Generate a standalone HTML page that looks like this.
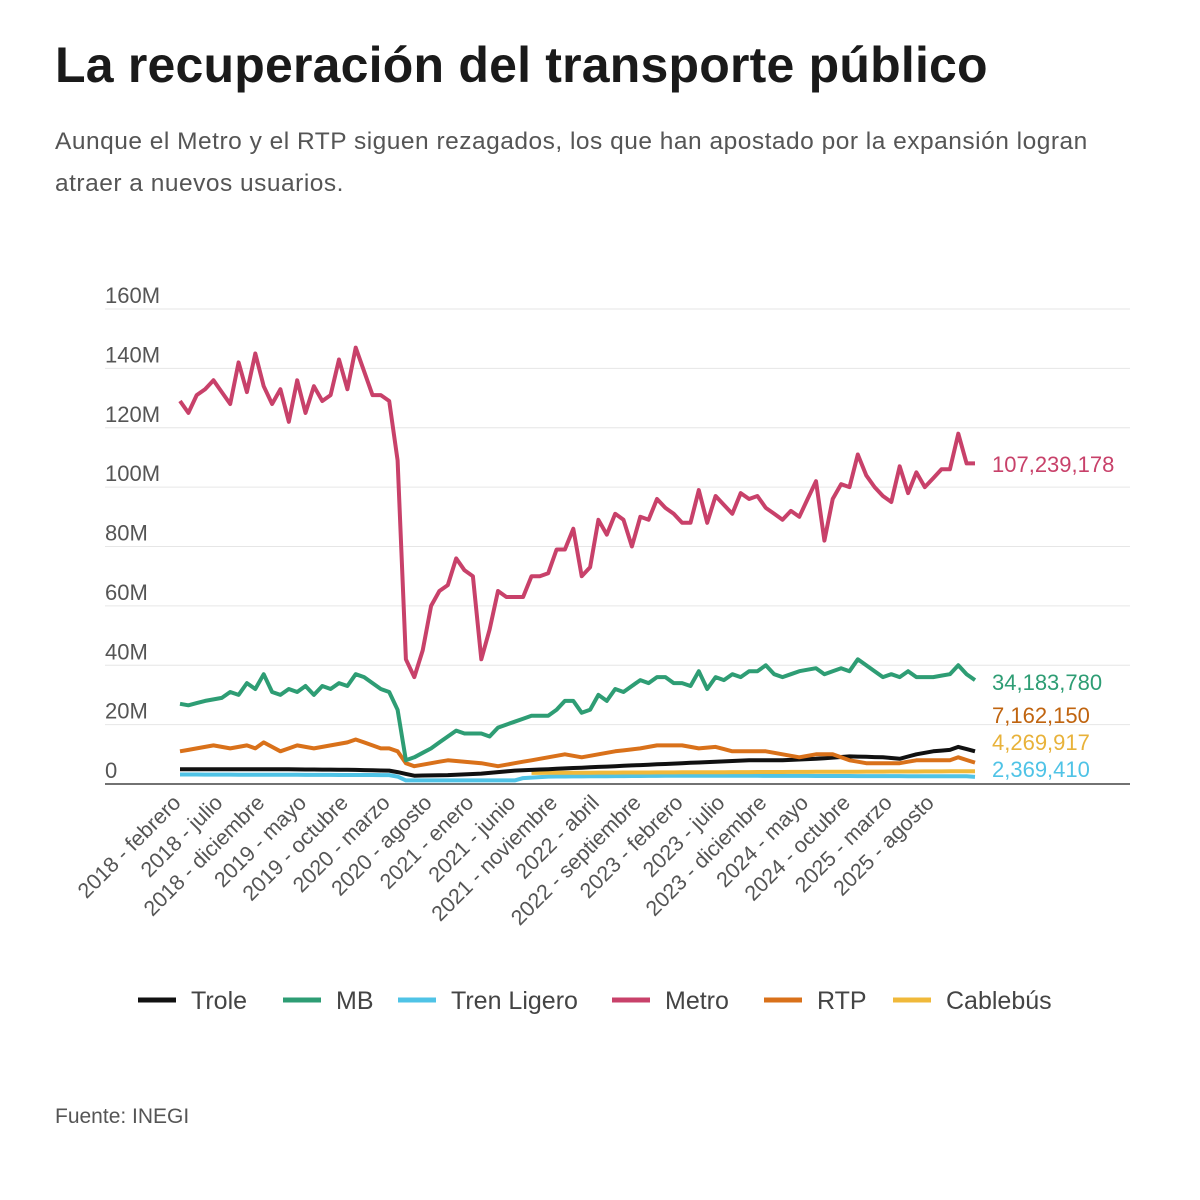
<!DOCTYPE html>
<html><head><meta charset="utf-8">
<style>
body{margin:0;background:#fff;width:1200px;height:1200px;overflow:hidden;font-family:"Liberation Sans",sans-serif;}
h1{position:absolute;left:55px;top:36px;margin:0;font-size:50px;font-weight:bold;color:#1a1a1a;letter-spacing:0.2px;}
.sub{position:absolute;left:55px;top:121px;width:1110px;font-size:24.5px;line-height:42px;color:#555;letter-spacing:0.5px;}
.src{position:absolute;left:55px;top:1105px;font-size:21px;color:#555;}
svg{position:absolute;left:0;top:0;}
</style></head><body>
<h1>La recuperación del transporte público</h1>
<div class="sub">Aunque el Metro y el RTP siguen rezagados, los que han apostado por la expansión logran<br>atraer a nuevos usuarios.</div>
<svg id="c" width="1200" height="1200" xmlns="http://www.w3.org/2000/svg" font-family="Liberation Sans, sans-serif"></svg>
<div class="src">Fuente: INEGI</div>
<script>
const s=document.getElementById('c');
const x0=180,dx=795/95,y0=784,k=475/160;
let h='';
for(let v=0;v<=160;v+=20){const y=y0-v*k;
 if(v>0)h+=`<line x1="105" x2="1130" y1="${y}" y2="${y}" stroke="#e6e6e6" stroke-width="1"/>`;
 h+=`<text x="105" y="${y-6}" font-size="22" fill="#555">${v?v+'M':'0'}</text>`;}
h+=`<line x1="105" x2="1130" y1="${y0}" y2="${y0}" stroke="#444" stroke-width="1.5"/>`;
function interp(pts,n){const a=[];for(let i=0;i<n;i++){let j=0;while(j<pts.length-2&&pts[j+1][0]<i)j++;const[p,q]=[pts[j],pts[j+1]];const t=(i-p[0])/(q[0]-p[0]);a.push(p[1]+(q[1]-p[1])*Math.max(0,Math.min(1,t)));}return a;}
const metro=[129,125,131,133,136,132,128,142,132,145,134,128,133,122,136,125,134,129,131,143,133,147,139,131,131,129,109,42,36,45,60,65,67,76,72,70,42,52,65,63,63,63,70,70,71,79,79,86,70,73,89,84,91,89,80,90,89,96,93,91,88,88,99,88,97,94,91,98,96,97,93,91,89,92,90,96,102,82,96,101,100,111,104,100,97,95,107,98,105,100,103,106,106,118,108,108];
const mbBase=interp([[0,27],[1,26.5],[3,28],[5,29],[6,31],[7,30],[8,34],[9,32],[10,37],[11,31],[12,30],[13,32],[14,31],[15,33],[16,30],[17,33],[18,32],[19,34],[20,33],[21,37],[22,36],[23,34],[24,32],[25,31],[26,25],[27,8],[28,9],[30,12],[33,18],[34,17],[36,17],[37,16],[38,19],[40,21],[42,23],[44,23],[45,25],[46,28],[47,28],[48,24],[49,25],[50,30],[51,28],[52,32],[53,31],[55,35],[56,34],[57,36],[58,36],[59,34],[60,34],[61,33],[62,38],[63,32],[64,36],[65,35],[66,37],[67,36],[68,38],[69,38],[70,40],[71,37],[72,36],[74,38],[76,39],[77,37],[79,39],[80,38],[81,42],[82,40],[84,36],[85,37],[86,36],[87,38],[88,36],[90,36],[92,37],[93,40],[94,37],[95,35]],96);
const rtp=interp([[0,11],[2,12],[4,13],[6,12],[8,13],[9,12],[10,14],[12,11],[14,13],[16,12],[18,13],[20,14],[21,15],[22,14],[24,12],[25,12],[26,11],[27,7],[28,6],[30,7],[32,8],[34,7.5],[36,7],[38,6],[40,7],[42,8],[44,9],[46,10],[48,9],[50,10],[52,11],[55,12],[57,13],[60,13],[62,12],[64,12.5],[66,11],[68,11],[70,11],[72,10],[74,9],[76,10],[78,10],[80,8],[82,7],[84,7],[86,7],[88,8],[90,8],[92,8],[93,9],[95,7.2]],96);
const trole=interp([[0,5],[10,5],[20,4.8],[25,4.5],[26,4],[28,2.8],[32,3],[36,3.5],[40,4.5],[44,5],[48,5.5],[52,6],[56,6.5],[60,7],[64,7.5],[68,8],[72,8],[76,8.5],[80,9.3],[84,9],[86,8.5],[88,10],[90,11],[92,11.5],[93,12.5],[95,11]],96);
const tren=interp([[0,3.2],[25,3],[26,2.5],[27,1.2],[40,1.2],[41,2],[44,2.5],[60,2.8],[94,2.6],[95,2.4]],96);
const cable=interp([[0,3.3],[95,4.3]],96).map((v,i)=>i<42?null:v);
function path(arr,c,w){let d='';arr.forEach((v,i)=>{if(v==null)return;d+=(d?'L':'M')+(x0+i*dx).toFixed(1)+','+(y0-v*k).toFixed(1);});return `<path d="${d}" fill="none" stroke="${c}" stroke-width="${w}" stroke-linejoin="round"/>`;}
h+=path(tren,'#4fc3e6',4)+path(cable,'#f0b93a',4)+path(trole,'#111',4)+path(rtp,'#d9711a',4)+path(mbBase,'#2e9d74',4)+path(metro,'#c8416a',4);
const lab=[[ '107,239,178',472,'#c8416a'],['34,183,780',690,'#2e9d74'],['7,162,150',723,'#c0640f'],['4,269,917',750,'#e8b23a'],['2,369,410',777,'#4fc3e6']];
lab.forEach(l=>h+=`<text x="992" y="${l[1]}" font-size="22" fill="${l[2]}">${l[0]}</text>`);
const ticks=['2018 - febrero','2018 - julio','2018 - diciembre','2019 - mayo','2019 - octubre','2020 - marzo','2020 - agosto','2021 - enero','2021 - junio','2021 - noviembre','2022 - abril','2022 - septiembre','2023 - febrero','2023 - julio','2023 - diciembre','2024 - mayo','2024 - octubre','2025 - marzo','2025 - agosto'];
ticks.forEach((t,i)=>{const x=x0+i*5*dx+2;h+=`<text transform="translate(${x},804) rotate(-45)" text-anchor="end" font-size="21.5" fill="#555">${t}</text>`;});
const leg=[['Trole','#111',138],['MB','#2e9d74',283],['Tren Ligero','#4fc3e6',398],['Metro','#c8416a',612],['RTP','#d9711a',764],['Cablebús','#f0b93a',893]];
leg.forEach(l=>{h+=`<line x1="${l[2]}" x2="${l[2]+38}" y1="1000" y2="1000" stroke="${l[1]}" stroke-width="5"/><text x="${l[2]+53}" y="1009" font-size="25" fill="#444">${l[0]}</text>`;});
s.innerHTML=h;
</script>
</body></html>
